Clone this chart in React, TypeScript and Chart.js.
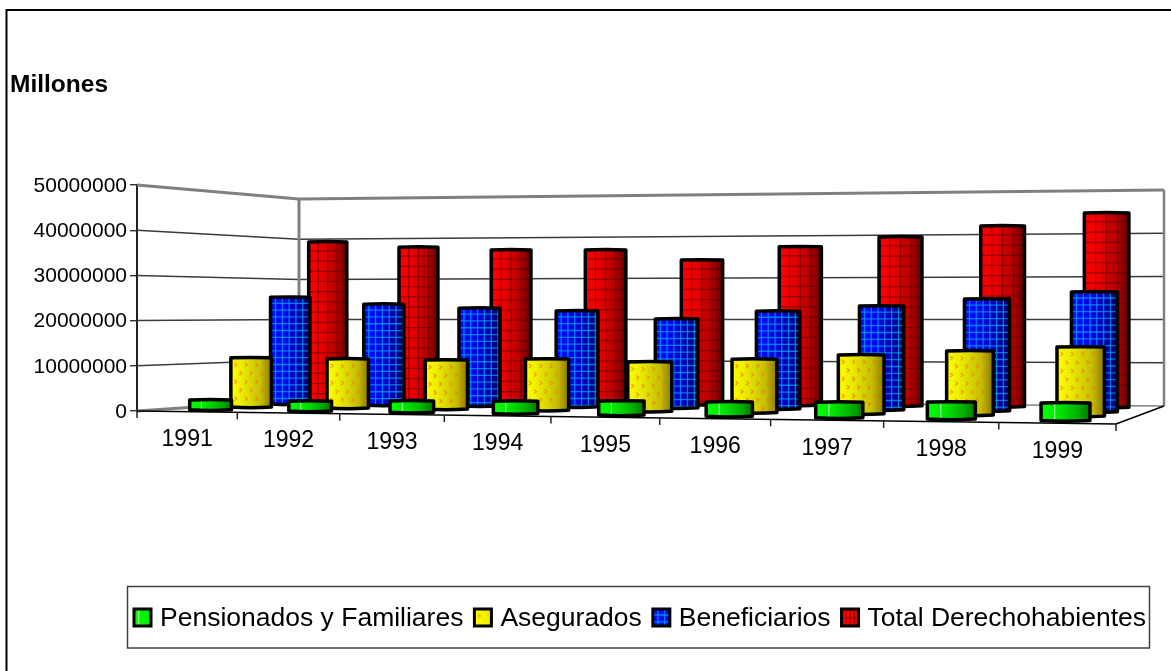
import React, { useEffect, useRef } from "react";
import { Chart, registerables } from "chart.js";

Chart.register(...registerables);

const years = ["1991", "1992", "1993", "1994", "1995", "1996", "1997", "1998", "1999"];
const pensionados = [2300000, 2300000, 2600000, 2800000, 3100000, 3200000, 3400000, 3700000, 3800000];
const asegurados = [11400000, 11300000, 11200000, 11600000, 11100000, 11900000, 13000000, 14000000, 15000000];
const beneficiarios = [25400000, 23800000, 22900000, 22300000, 20500000, 22300000, 23500000, 25100000, 26700000];
const total = [39000000, 37600000, 36800000, 36700000, 34200000, 37200000, 39400000, 41800000, 44600000];
const yTicks = [0, 10000000, 20000000, 30000000, 40000000, 50000000];
const axisTitle = "Millones";

const FONT = '"Liberation Sans", Arial, sans-serif';
const W = 1171;
const H = 671;

// 3D box geometry: front plane is the chart area; the back plane is offset from it
const area = { left: 137, right: 1116, top: 185, bottom: 411 };
const back = { left: 299, right: 1164, floorL: 400, floorR: 406, hL: 201, hR: 216 };
const front = { floorL: 411, floorR: 424, hL: 226, hR: 243 };
const WARP = 0.0875;
const BAR_T = 0.047;

const warp = (t: number) => t - WARP * t * (1 - t);
const lerp = (a: number, b: number, k: number) => a + (b - a) * k;

function project(t: number, d: number, v: number) {
  const w = warp(t);
  const fx = lerp(area.left, area.right, w);
  const bx = lerp(back.left, back.right, w);
  const fy = lerp(front.floorL, front.floorR, w);
  const by = lerp(back.floorL, back.floorR, w);
  const fh = lerp(front.hL, front.hR, w);
  const bh = lerp(back.hL, back.hR, w);
  return { x: lerp(fx, bx, d), y: lerp(fy, by, d) - v * lerp(fh, bh, d) };
}

type Look = {
  stops: [number, string][];
  kind: "red" | "blue" | "yellow" | "green";
};

const looks: Look[] = [
  { kind: "green", stops: [[0, "#00ff00"], [0.35, "#00e800"], [0.75, "#00b000"], [1, "#007800"]] },
  { kind: "yellow", stops: [[0, "#ffff00"], [0.3, "#eaea00"], [0.75, "#c4bc00"], [1, "#857800"]] },
  { kind: "blue", stops: [[0, "#0010ff"], [0.35, "#0008e8"], [0.75, "#0000a8"], [1, "#000060"]] },
  { kind: "red", stops: [[0, "#ff0000"], [0.35, "#e80000"], [0.75, "#b00000"], [1, "#600000"]] },
];

function cylinderPath(ctx: CanvasRenderingContext2D, l: number, r: number, top: number, bot: number) {
  ctx.beginPath();
  ctx.moveTo(l, top);
  ctx.quadraticCurveTo((l + r) / 2, top - 0.8, r, top);
  ctx.lineTo(r, bot - 0.5);
  ctx.quadraticCurveTo((l + r) / 2, bot + 1, l, bot - 0.5);
  ctx.closePath();
}

function texture(ctx: CanvasRenderingContext2D, look: Look, l: number, r: number, top: number, bot: number) {
  const w = r - l;
  if (look.kind === "red") {
    ctx.strokeStyle = "rgba(90,0,0,0.55)";
    ctx.lineWidth = 1.2;
    for (let k = 1; k < 4; k++) {
      ctx.beginPath();
      ctx.moveTo(l + (w * k) / 4, top);
      ctx.lineTo(l + (w * k) / 4, bot);
      ctx.stroke();
    }
    for (let y = top + 9; y < bot; y += 10.2) {
      ctx.beginPath();
      ctx.moveTo(l, y);
      ctx.lineTo(r, y);
      ctx.stroke();
    }
  } else if (look.kind === "blue") {
    ctx.strokeStyle = "rgba(0,170,255,0.7)";
    ctx.lineWidth = 1.3;
    for (let x = l + 5; x < r; x += 6.8) {
      ctx.beginPath();
      ctx.moveTo(x, top);
      ctx.lineTo(x, bot);
      ctx.stroke();
    }
    for (let y = top + 6; y < bot; y += 6.8) {
      ctx.beginPath();
      ctx.moveTo(l, y);
      ctx.lineTo(r, y);
      ctx.stroke();
    }
  } else if (look.kind === "yellow") {
    ctx.strokeStyle = "rgba(240,120,20,0.65)";
    ctx.lineWidth = 1.4;
    let row = 0;
    for (let y = top + 7; y < bot - 3; y += 8.5) {
      for (let x = l + 5 + (row % 2) * 5; x < r - 2; x += 10.5) {
        ctx.beginPath();
        ctx.moveTo(x - 1.5, y - 2);
        ctx.lineTo(x + 1, y);
        ctx.lineTo(x - 1.5, y + 2);
        ctx.stroke();
      }
      row++;
    }
  } else {
    ctx.strokeStyle = "rgba(200,255,200,0.9)";
    ctx.lineWidth = 1;
    ctx.beginPath();
    ctx.moveTo(l + w * 0.28, top);
    ctx.lineTo(l + w * 0.28, bot);
    ctx.stroke();
  }
}

function line(ctx: CanvasRenderingContext2D, a: { x: number; y: number }, b: { x: number; y: number }, color: string, width: number) {
  ctx.strokeStyle = color;
  ctx.lineWidth = width;
  ctx.beginPath();
  ctx.moveTo(a.x, a.y);
  ctx.lineTo(b.x, b.y);
  ctx.stroke();
}

const box3d = {
  id: "box3d",
  beforeDraw(chart: any) {
    const { ctx } = chart;
    ctx.save();
    ctx.strokeStyle = "#000";
    ctx.lineWidth = 2;
    ctx.strokeRect(6.5, 10, W + 40, H + 40);
    ctx.fillStyle = "#000";
    ctx.font = `bold 24.5px ${FONT}`;
    ctx.textAlign = "left";
    ctx.textBaseline = "middle";
    ctx.fillText(axisTitle, 10, 85);
    ctx.restore();
  },
  beforeDatasetDraw() {
    return false;
  },
  beforeDatasetsDraw(chart: any) {
    const { ctx, scales } = chart;
    const ys = scales.y;
    const maxV = ys.max;
    ctx.save();
    // walls: grid lines follow the y scale
    yTicks.forEach((val) => {
      const v = val / maxV;
      const yPx = ys.getPixelForValue(val);
      const bl = project(0, 1, v);
      const br = project(1, 1, v);
      const isEdge = val === 0 || val === maxV;
      const col = isEdge ? "#808080" : "#3c3c3c";
      const lw = isEdge ? 3 : 1.5;
      line(ctx, { x: area.left, y: yPx }, bl, col, lw);
      if (val !== 0) line(ctx, bl, br, col, lw);
    });
    line(ctx, project(0, 1, 0), project(0, 1, 1), "#808080", 3);
    line(ctx, project(1, 1, 0), project(1, 1, 1), "#808080", 2.5);
    line(ctx, project(0, 1, 0), project(1, 1, 0), "#808080", 1.5);
    // floor outline
    line(ctx, project(0, 0, 0), project(1, 0, 0), "#000", 1.6);
    line(ctx, project(1, 0, 0), project(1, 1, 0), "#000", 1.6);
    // category ticks and labels
    const n = years.length;
    for (let i = 0; i <= n; i++) {
      const p = project(i / n, 0, 0);
      line(ctx, p, { x: p.x, y: p.y + 7 }, "#222", 1.5);
    }
    ctx.fillStyle = "#000";
    ctx.font = `23px ${FONT}`;
    ctx.textAlign = "center";
    ctx.textBaseline = "middle";
    scales.x.getLabels().forEach((lab: string, i: number) => {
      const a = project(i / n, 0, 0);
      const b = project((i + 1) / n, 0, 0);
      ctx.fillText(lab, (a.x + b.x) / 2, (a.y + b.y) / 2 + 28);
    });
    ctx.restore();
  },
  afterDatasetsDraw(chart: any) {
    const { ctx, scales } = chart;
    const xs = scales.x;
    const ys = scales.y;
    const datasets = chart.data.datasets;
    ctx.save();
    for (let s = datasets.length - 1; s >= 0; s--) {
      const d = (s + 0.5) / datasets.length;
      const look = looks[s];
      datasets[s].data.forEach((val: number, i: number) => {
        const t = (xs.getPixelForValue(i) - xs.left) / xs.width;
        const v = (ys.bottom - ys.getPixelForValue(val)) / ys.height;
        const bias = 3 * (1 - t) + 12 * d * (1 - d);
        const l = project(t - BAR_T / 2, d, 0).x + bias;
        const r = project(t + BAR_T / 2, d, 0).x + bias;
        const c0 = project(t, d, 0);
        const c1 = project(t, d, v);
        const grad = ctx.createLinearGradient(l, 0, r, 0);
        look.stops.forEach(([o, col]) => grad.addColorStop(o, col));
        ctx.save();
        cylinderPath(ctx, l, r, c1.y, c0.y);
        ctx.fillStyle = grad;
        ctx.fill();
        ctx.clip();
        texture(ctx, look, l, r, c1.y, c0.y);
        ctx.restore();
        ctx.lineJoin = "round";
        ctx.strokeStyle = "#000";
        ctx.lineWidth = 3.5;
        cylinderPath(ctx, l, r, c1.y, c0.y);
        ctx.stroke();
      });
    }
    ctx.restore();
  },
  afterDraw(chart: any) {
    const { ctx } = chart;
    ctx.save();
    // legend
    ctx.fillStyle = "#fff";
    ctx.fillRect(127.5, 586.5, 1022, 61.5);
    ctx.strokeStyle = "#404040";
    ctx.lineWidth = 1.5;
    ctx.strokeRect(127.5, 586.5, 1022, 61.5);
    ctx.font = `26.5px ${FONT}`;
    ctx.textAlign = "left";
    ctx.textBaseline = "middle";
    let x = 134;
    chart.data.datasets.forEach((ds: any, s: number) => {
      const look = looks[s];
      const bs = 17;
      const top = 609;
      const grad = ctx.createLinearGradient(x, 0, x + bs, 0);
      grad.addColorStop(0, look.stops[0][1]);
      grad.addColorStop(1, look.stops[1][1]);
      ctx.save();
      ctx.beginPath();
      ctx.rect(x, top, bs, bs);
      ctx.fillStyle = grad;
      ctx.fill();
      ctx.clip();
      texture(ctx, look, x, x + bs, top, top + bs);
      ctx.restore();
      ctx.strokeStyle = "#000";
      ctx.lineWidth = 3;
      ctx.strokeRect(x, top, bs, bs);
      ctx.fillStyle = "#000";
      const tx = x + 26;
      ctx.fillText(ds.label, tx, 619);
      x = tx + ctx.measureText(ds.label).width + 11;
    });
    ctx.restore();
  },
};

export default function App() {
  const ref = useRef<HTMLCanvasElement>(null);
  useEffect(() => {
    if (!ref.current) return;
    document.body.style.margin = "0";
    const chart = new Chart(ref.current, {
      type: "bar",
      data: {
        labels: years,
        datasets: [
          { label: "Pensionados y Familiares", data: pensionados, backgroundColor: "#00ff00" },
          { label: "Asegurados", data: asegurados, backgroundColor: "#ffff00" },
          { label: "Beneficiarios", data: beneficiarios, backgroundColor: "#0000ff" },
          { label: "Total Derechohabientes", data: total, backgroundColor: "#ff0000" },
        ],
      },
      options: {
        responsive: false,
        animation: false,
        layout: { padding: { left: 0, right: W - area.right, top: area.top, bottom: 0 } },
        plugins: { legend: { display: false }, tooltip: { enabled: false } },
        scales: {
          x: {
            offset: true,
            grid: { display: false },
            border: { display: false },
            ticks: { display: false },
            afterFit: (s: any) => {
              s.height = H - area.bottom;
            },
          },
          y: {
            min: 0,
            max: 50000000,
            afterBuildTicks: (s: any) => {
              s.ticks = yTicks.map((value) => ({ value }));
            },
            afterFit: (s: any) => {
              s.width = area.left;
            },
            border: { display: true, color: "#222", width: 2 },
            grid: { drawOnChartArea: false, drawTicks: true, tickLength: 7, color: "#333", lineWidth: 1.4 },
            ticks: {
              color: "#000",
              padding: 3,
              labelOffset: 1,
              font: { family: FONT, size: 21 },
              callback: (v: any) => String(v),
            },
          },
        },
      },
      plugins: [box3d],
    } as any);
    return () => chart.destroy();
  }, []);
  return <canvas ref={ref} width={W} height={H} style={{ position: "fixed", left: 0, top: 0, display: "block" }} />;
}
